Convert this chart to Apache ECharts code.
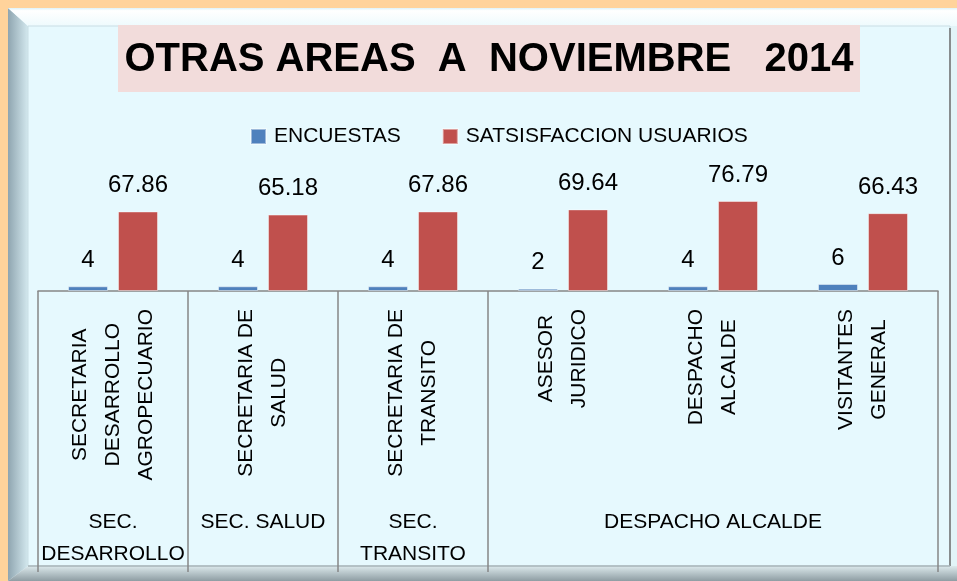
<!DOCTYPE html>
<html>
<head>
<meta charset="utf-8">
<title>OTRAS AREAS A NOVIEMBRE 2014</title>
<script src="https://cdn.jsdelivr.net/npm/echarts@6/dist/echarts.min.js"></script>
<style>
  html, body { margin: 0; padding: 0; background: #FFD39B; }
  #chart { width: 957px; height: 581px; }
</style>
</head>
<body>
<div id="chart"></div>
<script>
// Offices (rotated labels, one line per row of text)
const categories = [
  'SECRETARIA\nDESARROLLO\nAGROPECUARIO',
  'SECRETARIA DE\nSALUD',
  'SECRETARIA DE\nTRANSITO',
  'ASESOR\nJURIDICO',
  'DESPACHO\nALCALDE',
  'VISITANTES\nGENERAL'
];
// Second level of the axis: groups and how many offices each one holds
const groupNames = ['SEC.\nDESARROLLO', 'SEC. SALUD', 'SEC.\nTRANSITO', 'DESPACHO ALCALDE'];
const groupSizes = [1, 1, 1, 3];

const seriesNames = ['ENCUESTAS', 'SATSISFACCION USUARIOS'];
const encuestas = [4, 4, 4, 2, 4, 6];
const satisfaccion = [67.86, 65.18, 67.86, 69.64, 76.79, 66.43];

const titleText = 'OTRAS AREAS  A  NOVIEMBRE   2014';

const FONT = '"Liberation Sans", Arial, sans-serif';

// Group boundaries and centres on a 0..N value scale
const groupEdges = [0];
groupSizes.forEach(s => groupEdges.push(groupEdges[groupEdges.length - 1] + s));
const groupCentres = groupSizes.map((s, i) => groupEdges[i] + s / 2);

const chart = echarts.init(document.getElementById('chart'), null, { renderer: 'canvas' });

const W = 957, H = 581;

chart.setOption({
  backgroundColor: '#FFD39B',
  animation: false,
  graphic: [
    // frame body
    { type: 'rect', shape: { x: 8, y: 8, width: W - 8, height: H - 8 }, style: { fill: '#E2F4F8' }, z: -10 },
    // left bevel
    { type: 'polygon', shape: { points: [[8, 8], [28, 26], [28, 566], [8, H]] },
      style: { fill: new echarts.graphic.LinearGradient(0, 0, 1, 0, [
        { offset: 0, color: '#8FA5B0' }, { offset: 1, color: '#D3E8EE' }]) }, z: -9 },
    // top bevel
    { type: 'polygon', shape: { points: [[8, 8], [W, 8], [W, 26], [28, 26]] },
      style: { fill: new echarts.graphic.LinearGradient(0, 0, 0, 1, [
        { offset: 0, color: '#DDF3F9' }, { offset: 0.15, color: '#FFFFFF' }, { offset: 1, color: '#EEFAFD' }]) }, z: -9 },
    // bottom bevel
    { type: 'polygon', shape: { points: [[8, H], [28, 566], [W, 566], [W, H]] },
      style: { fill: new echarts.graphic.LinearGradient(0, 0, 0, 1, [
        { offset: 0, color: '#DCE9EC' }, { offset: 1, color: '#8E9DA3' }]) }, z: -9 },
    // inner panel
    { type: 'rect', shape: { x: 28, y: 26, width: 922, height: 540 },
      style: { fill: '#E6F9FE', stroke: '#C9DEE4', lineWidth: 1 }, z: -8 },
    { type: 'line', shape: { x1: 950, y1: 28, x2: 950, y2: 566 }, style: { stroke: '#6E6E6E', lineWidth: 1.5 }, z: -7 },
    { type: 'line', shape: { x1: 28, y1: 566, x2: 950, y2: 566 }, style: { stroke: '#A9B4B8', lineWidth: 1.5 }, z: -7 },
    // title box
    { type: 'rect', shape: { x: 118, y: 25, width: 742, height: 67 }, style: { fill: '#F2DCDB' }, z: -6 },
    { type: 'text', x: 489, y: 60,
      style: { text: titleText, fill: '#000', font: 'bold 40px ' + FONT, align: 'center', verticalAlign: 'middle' }, z: 5 }
  ],
  legend: {
    data: seriesNames,
    left: 245,
    top: 121,
    itemWidth: 15,
    itemHeight: 15,
    itemGap: 41,
    icon: 'rect',
    textStyle: { fontFamily: FONT, fontSize: 21, color: '#000', padding: [0, 0, 0, 3] }
  },
  grid: { left: 38, width: 900, top: 173.8, height: 117.2, containLabel: false },
  xAxis: [
    {
      type: 'category',
      data: categories,
      position: 'bottom',
      axisLine: { show: true, lineStyle: { color: '#868686', width: 1.5 } },
      axisTick: { show: false },
      axisLabel: {
        interval: 0,
        rotate: 90,
        margin: 18,
        color: '#000',
        fontFamily: FONT,
        fontSize: 21,
        lineHeight: 33,
        formatter: v => v.split('\n').map(l => '{c|' + l + '}').join('\n'),
        rich: { c: { align: 'center', fontFamily: FONT, fontSize: 21, lineHeight: 33, color: '#000' } }
      }
    },
    {
      type: 'value',
      min: 0,
      max: categories.length,
      position: 'bottom',
      axisLine: { show: false },
      splitLine: { show: false },
      axisTick: {
        show: true,
        length: 281,
        customValues: groupEdges,
        lineStyle: { color: '#868686', width: 1.5 }
      },
      axisLabel: {
        show: true,
        customValues: groupCentres,
        margin: 215,
        color: '#000',
        fontFamily: FONT,
        fontSize: 21,
        lineHeight: 32,
        align: 'center',
        formatter: v => {
          const i = groupCentres.findIndex(c => Math.abs(c - v) < 1e-6);
          return i >= 0 ? groupNames[i] : '';
        }
      }
    }
  ],
  yAxis: { type: 'value', min: 0, max: 100, show: false, splitLine: { show: false } },
  series: [
    {
      name: seriesNames[0],
      type: 'bar',
      data: encuestas,
      barWidth: 40,
      barGap: '25%',
      itemStyle: { color: '#4F81BD', borderColor: 'rgba(255,255,255,0.45)', borderWidth: 1 },
      label: { show: true, position: 'top', distance: 14, color: '#000', fontFamily: FONT, fontSize: 24 }
    },
    {
      name: seriesNames[1],
      type: 'bar',
      data: satisfaccion,
      barWidth: 40,
      barGap: '25%',
      itemStyle: { color: '#C0504D', borderColor: 'rgba(255,255,255,0.45)', borderWidth: 1 },
      label: { show: true, position: 'top', distance: 14, color: '#000', fontFamily: FONT, fontSize: 24 }
    }
  ]
});
</script>
</body>
</html>
